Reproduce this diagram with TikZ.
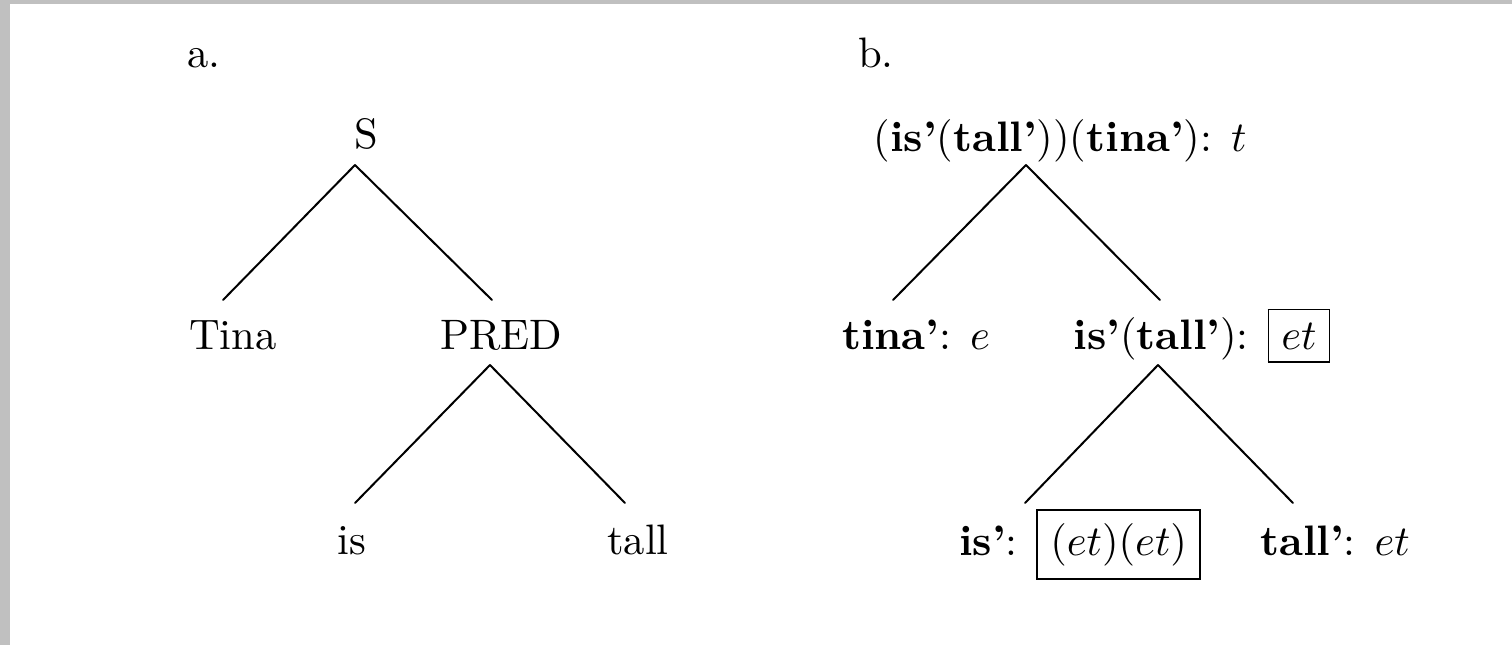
\documentclass[tikz,border=0pt]{standalone}
\definecolor{framegray}{RGB}{192,192,192}
\newcommand{\zoomtxt}[1]{\scalebox{2.13}{#1}}
\tikzset{
  lab/.style={anchor=base, inner sep=0pt},
  branch/.style={line width=1pt, line cap=round},
}
\setlength{\fboxsep}{2.9pt}
\setlength{\fboxrule}{0.35pt}
\begin{document}
\begin{tikzpicture}[x=0.5pt,y=-0.5pt]
\useasboundingbox (0,0) rectangle (1512,645);
\fill[white] (0,0) rectangle (1512,645);
\fill[framegray] (0,0) rectangle (1512,4);
\fill[framegray] (0,0) rectangle (10,645);
% tree a
\node[lab] (la) at (204,67) {\zoomtxt{a.}};
\node[lab] (S) at (366,148) {\zoomtxt{S}};
\node[lab] (Tina) at (233,349) {\zoomtxt{Tina}};
\node[lab] (PRED) at (501,349) {\zoomtxt{PRED}};
\node[lab] (is) at (352,554) {\zoomtxt{is}};
\node[lab] (tall) at (638,554) {\zoomtxt{tall}};
\draw[branch] ([shift={(-11,17)}]S.base) -- ([shift={(-10,-49)}]Tina.base);
\draw[branch] ([shift={(-11,17)}]S.base) -- ([shift={(-9,-49)}]PRED.base);
\draw[branch] ([shift={(-11,16)}]PRED.base) -- ([shift={(3,-51)}]is.base);
\draw[branch] ([shift={(-11,16)}]PRED.base) -- ([shift={(-13,-51)}]tall.base);
% tree b
\node[lab] (lb) at (876,67) {\zoomtxt{b.}};
\node[lab] (root) at (1060,151) {\zoomtxt{(\textbf{is'}(\textbf{tall'}))(\textbf{tina'}): $t$}};
\node[lab] (tina) at (916,349) {\zoomtxt{\textbf{tina'}: $e$}};
\node[lab] (istall) at (1202,349) {\zoomtxt{\textbf{is'}(\textbf{tall'}): \fbox{$et$}}};
\node[lab] (isb) at (1080,555) {\zoomtxt{\textbf{is'}: \fbox{$(et)(et)$}}};
\node[lab] (tallb) at (1335,555) {\zoomtxt{\textbf{tall'}: $et$}};
\draw[branch] ([shift={(-34,14)}]root.base) -- ([shift={(-23,-49)}]tina.base);
\draw[branch] ([shift={(-34,14)}]root.base) -- ([shift={(-42,-49)}]istall.base);
\draw[branch] ([shift={(-44,16)}]istall.base) -- ([shift={(-55,-52)}]isb.base);
\draw[branch] ([shift={(-44,16)}]istall.base) -- ([shift={(-42,-52)}]tallb.base);
\end{tikzpicture}
\end{document}
